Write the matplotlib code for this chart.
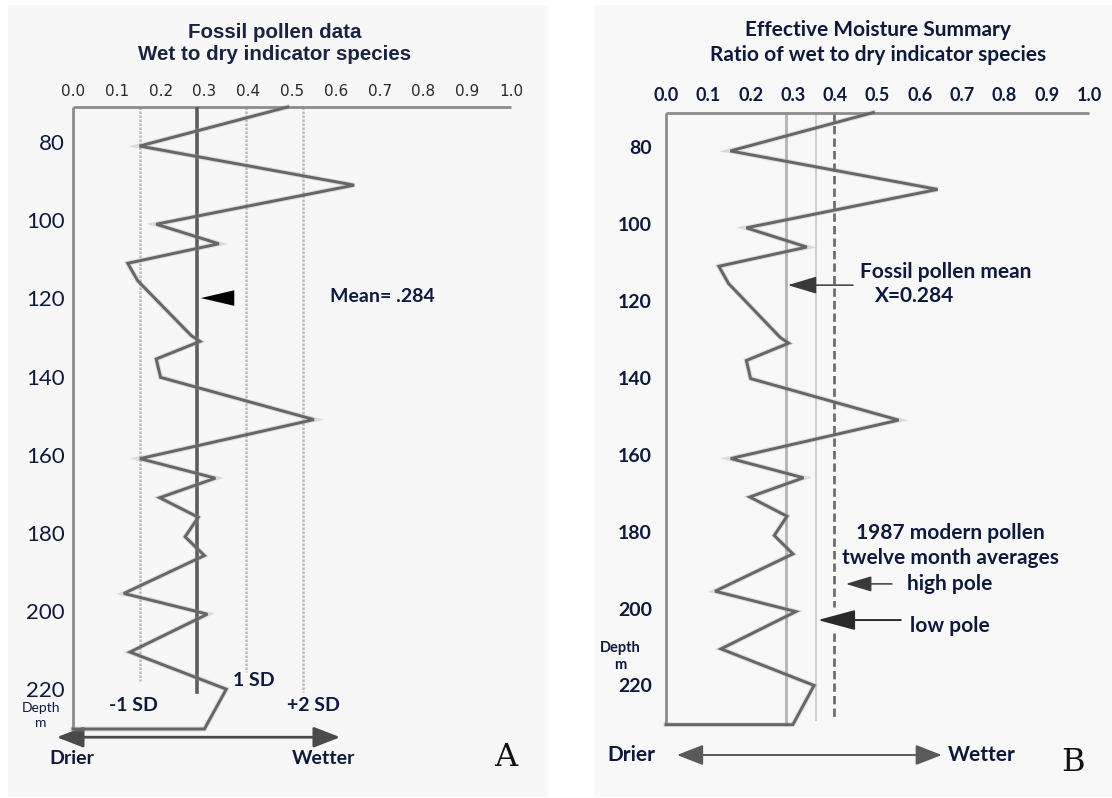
import numpy as np
import matplotlib
matplotlib.use("Agg")
import matplotlib.pyplot as plt
import matplotlib.patheffects as pe
from matplotlib.patches import Rectangle

# Fossil pollen record: core depth (m) and ratio of wet to dry indicator species
DEPTH = [71.0, 81.0, 91.0, 101.0, 106.0, 111.0, 115.5, 129.5, 131.0, 135.5, 140.2,
         151.0, 161.0, 166.0, 171.0, 176.0, 181.0, 185.8, 195.5, 200.8, 210.5,
         220.0, 230.2]
RATIO = [0.49, 0.152, 0.642, 0.19, 0.333, 0.125, 0.148, 0.27, 0.29, 0.19, 0.20,
         0.55, 0.153, 0.325, 0.198, 0.286, 0.256, 0.30, 0.116, 0.307, 0.13,
         0.35, 0.30]

MEAN = 0.284
SD_VALUES = [0.152, 0.395, 0.525]          # -1 SD, +1 SD, +2 SD
SD_BOTTOM = [218.0, 215.7, 220.8]
MEAN_BOTTOM_A = 220.8

LOW_POLE = 0.355       # 1987 modern pollen, twelve month averages
HIGH_POLE = 0.397
POLE_BOTTOM = 229.0
HIGH_POLE_GAP = (199.6, 206.4)

X_TICKS = [0.0, 0.1, 0.2, 0.3, 0.4, 0.5, 0.6, 0.7, 0.8, 0.9, 1.0]
DEPTH_TICKS = [80, 100, 120, 140, 160, 180, 200, 220]

W, H = 1112, 798
NAVY = "#0e1a3c"
LINE = "#666666"
SOFT = [pe.Stroke(linewidth=3.6, foreground="#9a9a9a", alpha=0.3), pe.Normal()]
BOLD = dict(family="Lato", weight="bold", color=NAVY)


def box(x0, y0, x1, y1):
    """Pixel box (top-left origin) -> figure fraction rect."""
    return [x0 / W, 1 - y1 / H, (x1 - x0) / W, (y1 - y0) / H]


def frame(ax, ylim):
    ax.set_xlim(0, 1.0)
    ax.set_ylim(*ylim)
    ax.set_facecolor("none")
    ax.xaxis.tick_top()
    ax.set_xticks(X_TICKS)
    ax.set_xticklabels([f"{v:.1f}" for v in X_TICKS])
    ax.set_yticks(DEPTH_TICKS)
    for s in ("right", "bottom"):
        ax.spines[s].set_visible(False)
    for s in ("left", "top"):
        ax.spines[s].set_color("#8c8c8c")
        ax.spines[s].set_linewidth(2)
        ax.spines[s].set_capstyle("butt")


def record(ax):
    # zigzag plus the closing run back to the depth axis along the core base
    ax.plot(RATIO + [0.0], DEPTH + [DEPTH[-1]], color=LINE, lw=2.1,
            path_effects=SOFT, solid_joinstyle="miter", zorder=4, clip_on=False)


def arrow(ax, tip, tail, style, color, lw, scale):
    ax.annotate("", xy=tip, xytext=tail, annotation_clip=False,
                arrowprops=dict(arrowstyle=style, color=color, lw=lw,
                                mutation_scale=scale, shrinkA=0, shrinkB=0))


fig = plt.figure(figsize=(W / 100, H / 100), dpi=100, facecolor="white")
fig.patches.append(Rectangle((8 / W, 1 / H), 540 / W, 792 / H, transform=fig.transFigure,
                             facecolor="#f7f7f7", edgecolor="none", zorder=-10))
fig.patches.append(Rectangle((594 / W, 1 / H), 518 / W, 792 / H, transform=fig.transFigure,
                             facecolor="#f8f8f8", edgecolor="none", zorder=-10))

# ---------------------------------------------------------------- panel A
axA = fig.add_axes(box(73, 107, 511, 729.8))
frame(axA, (230.4, 71.0))
axA.tick_params(axis="x", length=0, pad=6, labelsize=11, labelcolor="#2a2a2a")
axA.tick_params(axis="y", length=0, pad=6)
for t in axA.get_yticklabels():
    t.set_fontfamily("Lato")
    t.set_fontsize(16)
    t.set_color(NAVY)

for v, bot in zip(SD_VALUES, SD_BOTTOM):
    axA.plot([v, v], [DEPTH[0], bot], color="#bdbdbd", lw=1.8, ls=(0, (1, 0.6)), zorder=2)
axA.plot([MEAN, MEAN], [DEPTH[0], MEAN_BOTTOM_A], color="#5c5c5c", lw=2.6, zorder=3)
record(axA)

arrow(axA, (MEAN + 0.008, 119.9), (MEAN + 0.062, 119.9),
      "-|>,head_length=1.2,head_width=0.28", "black", 0.01, 20)
axA.text(0.587, 119.6, "Mean= .284", fontsize=14, va="center", **BOLD)
axA.text(0.365, 217.7, "1 SD", fontsize=14, va="center", **BOLD)
axA.text(0.137, 224.1, "-1 SD", fontsize=14, va="center", ha="center", **BOLD)
axA.text(0.55, 224.3, "+2 SD", fontsize=14, va="center", ha="center", **BOLD)
axA.text(-0.073, 224.8, "Depth", family="Lato", fontsize=10, color=NAVY,
         ha="center", va="center", clip_on=False)
axA.text(-0.073, 228.7, "m", family="Lato", fontsize=10, color=NAVY,
         ha="center", va="center", clip_on=False)

arrow(axA, (-0.037, 232.3), (0.61, 232.3), "<|-|>,head_length=0.9,head_width=0.35",
      "#4a4a4a", 2, 18)
axA.text(-0.003, 237.7, "Drier", fontsize=14, ha="center", va="center", **BOLD)
axA.text(0.573, 237.7, "Wetter", fontsize=14, ha="center", va="center", **BOLD)
axA.text(0.988, 237.4, "A", family="DejaVu Serif", fontsize=23, color="#111111",
         ha="center", va="center")

fig.text(275 / W, 1 - 32 / H, "Fossil pollen data", family="Liberation Sans",
         weight="bold", fontsize=14.8, color="#1a2440", ha="center", va="center")
fig.text(275 / W, 1 - 55 / H, "Wet to dry indicator species", family="Liberation Sans",
         weight="bold", fontsize=14.8, color="#1a2440", ha="center", va="center")

# ---------------------------------------------------------------- panel B
axB = fig.add_axes(box(666, 112.5, 1089, 725.4))
frame(axB, (230.4, 71.0))
axB.tick_params(axis="both", length=0)
axB.tick_params(axis="x", pad=6)
axB.tick_params(axis="y", pad=10)
for t in axB.get_xticklabels():
    t.set_fontfamily("Lato")
    t.set_fontweight("bold")
    t.set_fontsize(13)
    t.set_color(NAVY)
for t in axB.get_yticklabels():
    t.set_fontfamily("Lato")
    t.set_fontweight("bold")
    t.set_fontsize(14)
    t.set_color(NAVY)

axB.plot([MEAN, MEAN], [DEPTH[0], DEPTH[-1]], color="#b3b3b3", lw=2, zorder=2)
axB.plot([LOW_POLE, LOW_POLE], [DEPTH[0], POLE_BOTTOM], color="#cfcfcf", lw=1.4, zorder=2)
for top, bot in [(DEPTH[0], HIGH_POLE_GAP[0]), (HIGH_POLE_GAP[1], POLE_BOTTOM)]:
    axB.plot([HIGH_POLE, HIGH_POLE], [top, bot], color="#6e6e6e", lw=2,
             ls=(0, (3, 1.5)), zorder=2)
record(axB)

arrow(axB, (MEAN + 0.004, 115.9), (0.442, 115.9),
      "-|>,head_length=1.0,head_width=0.3", "#3a3a3a", 1.1, 18)
axB.text(0.661, 112.5, "Fossil pollen mean", fontsize=15, ha="center", va="center", **BOLD)
axB.text(0.587, 118.7, "X=0.284", fontsize=15, ha="center", va="center", **BOLD)

axB.text(0.672, 180.4, "1987 modern pollen", fontsize=15, ha="center", va="center", **BOLD)
axB.text(0.672, 186.9, "twelve month averages", fontsize=15, ha="center", va="center", **BOLD)
axB.text(0.67, 193.6, "high pole", fontsize=15, ha="center", va="center", **BOLD)
axB.text(0.672, 204.5, "low pole", fontsize=15, ha="center", va="center", **BOLD)
arrow(axB, (0.425, 193.6), (0.534, 193.6),
      "-|>,head_length=1.0,head_width=0.3", "#3a3a3a", 1.1, 16)
arrow(axB, (LOW_POLE + 0.004, 203.0), (0.555, 203.0),
      "-|>,head_length=1.3,head_width=0.35", "#2a2a2a", 1.4, 18)

axB.text(-0.109, 210.3, "Depth", fontsize=10.5, ha="center", va="center",
         clip_on=False, **BOLD)
axB.text(-0.109, 214.7, "m", fontsize=10.5, ha="center", va="center",
         clip_on=False, **BOLD)

arrow(axB, (0.026, 238.1), (0.652, 238.1), "<|-|>,head_length=0.9,head_width=0.35",
      "#5a5a5a", 1.4, 18)
axB.text(-0.083, 238.1, "Drier", fontsize=15, ha="center", va="center", **BOLD)
axB.text(0.747, 238.1, "Wetter", fontsize=15, ha="center", va="center", **BOLD)
axB.text(0.962, 240.0, "B", family="DejaVu Serif", fontsize=23, color="#111111",
         ha="center", va="center")

fig.text(878 / W, 1 - 30 / H, "Effective Moisture Summary", fontsize=15,
         ha="center", va="center", **BOLD)
fig.text(878 / W, 1 - 55 / H, "Ratio of wet to dry indicator species", fontsize=15,
         ha="center", va="center", **BOLD)

fig.savefig("out.png", dpi=100, facecolor=fig.get_facecolor())
